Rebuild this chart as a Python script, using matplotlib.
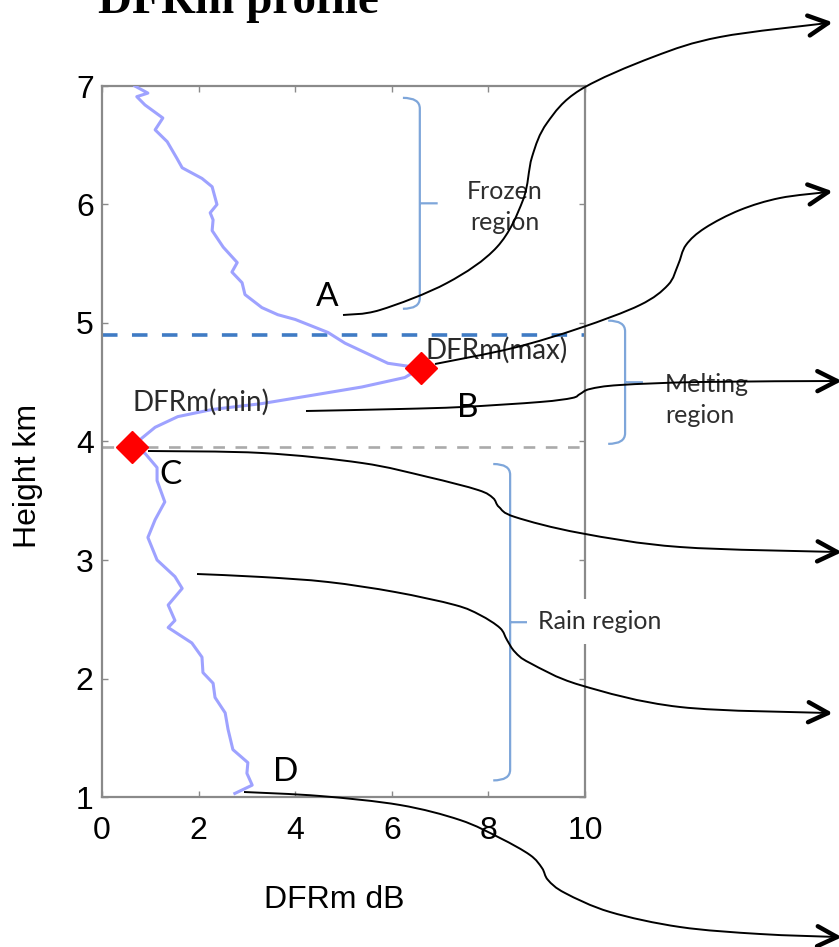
import numpy as np
import matplotlib.pyplot as plt
from matplotlib.path import Path
from matplotlib.patches import PathPatch
from matplotlib.lines import Line2D
from matplotlib.transforms import Affine2D

# DFRm profile, read top to bottom
height_km = [7.00, 6.94, 6.91, 6.84, 6.73, 6.63, 6.53, 6.39, 6.31, 6.22,
             6.15, 6.00, 5.93, 5.87, 5.78, 5.64, 5.51, 5.43, 5.34, 5.24,
             5.13, 5.07, 5.03, 4.92, 4.83, 4.66, 4.62, 4.54, 4.46, 4.39,
             4.32, 4.27, 4.21, 4.12, 4.03, 3.95, 3.90, 3.78, 3.67, 3.49,
             3.34, 3.19, 3.00, 2.86, 2.76, 2.62, 2.49, 2.43, 2.30, 2.18,
             2.05, 1.96, 1.84, 1.71, 1.57, 1.40, 1.29, 1.20, 1.10, 1.03]
dfrm_db = [0.68, 0.95, 0.72, 0.89, 1.26, 1.10, 1.35, 1.55, 1.66, 2.07,
           2.28, 2.38, 2.24, 2.30, 2.28, 2.51, 2.80, 2.69, 2.90, 2.96,
           3.31, 3.64, 4.00, 4.68, 5.03, 5.92, 6.60, 6.27, 5.38, 4.35,
           3.31, 2.28, 1.57, 1.10, 0.83, 0.62, 0.89, 1.14, 1.14, 1.30,
           1.10, 0.95, 1.14, 1.51, 1.66, 1.37, 1.51, 1.37, 1.86, 2.07,
           2.09, 2.30, 2.34, 2.55, 2.61, 2.71, 3.02, 3.00, 3.11, 2.75]

melt_top = 4.9
melt_bottom = 3.95

x_ticks = [0, 2, 4, 6, 8, 10]
y_ticks = [1, 2, 3, 4, 5, 6, 7]

# region braces: (bottom, top) in km and the brace x position
region_names = ['Frozen\nregion', 'Melting\nregion', 'Rain region']
region_spans = [(5.12, 6.90), (3.98, 5.02), (1.14, 3.81)]
region_brace_x = [6.58, 10.83, 8.45]
region_text_xy = [(8.34, 5.98), (11.66, 4.35), (9.03, 2.48)]
region_text_ha = ['center', 'left', 'left']

point_names = ['A', 'B', 'C', 'D']
point_xy = [(4.66, 5.22), (7.58, 4.28), (1.41, 3.72), (3.81, 1.21)]

W, H = 839, 947
fig = plt.figure(figsize=(W / 100, H / 100), dpi=100)
ax = fig.add_axes([102 / W, 1 - 797 / H, 483 / W, 711 / H])

ax.plot(dfrm_db, height_km, color='#9ea2ff', lw=2.2, zorder=3,
        solid_joinstyle='round')
ax.axhline(melt_top, color='#3f7bc4', lw=2.6, dashes=(4.3, 4), zorder=2)
ax.axhline(melt_bottom, color='#aaaaaa', lw=1.9, dashes=(4.4, 4), zorder=2)

i_max = int(np.argmax(dfrm_db))
i_min = int(np.argmin(dfrm_db))
ax.plot([dfrm_db[i_max], dfrm_db[i_min]], [height_km[i_max], height_km[i_min]],
        'D', color='#ff0000', ms=16, mec='#ff0000', zorder=4)

ax.set_xlim(0, 10)
ax.set_ylim(1, 7)
ax.set_xticks(x_ticks)
ax.set_yticks(y_ticks)
for s in ax.spines.values():
    s.set_color('#8a8a8a')
    s.set_linewidth(1.6)
ax.tick_params(direction='in', length=4, width=1, color='#8a8a8a',
               top=True, right=True, labelsize=23, labelcolor='black')
ax.tick_params(axis='x', pad=14)
ax.tick_params(axis='y', pad=6)
for lab in ax.get_xticklabels() + ax.get_yticklabels():
    lab.set_fontfamily('Liberation Sans')

brace_color = '#7ea6da'


def brace(x, y0, y1, hook=0.35, tip=0.37, r=0.09):
    ym = (y0 + y1) / 2
    verts = [(x - hook, y1), (x, y1), (x, y1 - r), (x, y0 + r), (x, y0),
             (x - hook, y0), (x, ym), (x + tip, ym)]
    codes = [Path.MOVETO, Path.CURVE3, Path.CURVE3, Path.LINETO,
             Path.CURVE3, Path.CURVE3, Path.MOVETO, Path.LINETO]
    ax.add_patch(PathPatch(Path(verts, codes), fill=False, ec=brace_color,
                           lw=1.6, clip_on=False, zorder=3))


for (y0, y1), bx in zip(region_spans, region_brace_x):
    brace(bx, y0, y1)

for name, (tx, ty), ha in zip(region_names, region_text_xy, region_text_ha):
    t = ax.text(tx, ty, name, ha=ha, va='center', fontsize=18,
                fontfamily='Lato', color='#2e2e2e', linespacing=1.4,
                clip_on=False, zorder=5)
    if name == 'Rain region':
        t.set_bbox(dict(fc='white', ec='none', pad=8))

ax.text(8.18, 4.77, 'DFRm(max)', ha='center', va='center', fontsize=20,
        fontfamily='Lato', color='#2a2a2a', zorder=5)
ax.text(2.05, 4.33, 'DFRm(min)', ha='center', va='center', fontsize=20,
        fontfamily='Lato', color='#2a2a2a', zorder=5)

for name, (tx, ty) in zip(point_names, point_xy):
    ax.text(tx, ty, name, ha='center', va='center', fontsize=24,
            fontfamily='Lato', color='black', zorder=5)

fig.text(238 / W, 1 - 13 / H, 'DFRm profile', ha='center', va='baseline',
         fontsize=34, fontweight='bold', fontfamily='Liberation Serif')
fig.text(334 / W, 1 - 900 / H, 'DFRm dB', ha='center', va='center',
         fontsize=23, fontfamily='Liberation Sans')
fig.text(28 / W, 1 - 476 / H, 'Height km', ha='center', va='center',
         rotation=90, fontsize=23, fontfamily='Liberation Sans')

# curved arrows leading off to the right, in pixel coordinates from top-left
px = Affine2D().scale(1 / W, -1 / H).translate(0, 1) + fig.transFigure

arrow_routes = [
    [(343, 315), (380, 310), (447, 283), (497, 247), (523, 200), (532, 157),
     (547, 123), (580, 90), (653, 57), (720, 37), (828, 23)],
    [(435, 364), (513, 348), (580, 328), (640, 305), (668, 285), (678, 265),
     (686, 245), (705, 228), (740, 210), (780, 198), (828, 192)],
    [(306, 411), (400, 409), (462, 407), (540, 402), (572, 398), (580, 394),
     (590, 389), (620, 385), (700, 382), (837, 381)],
    [(148, 451), (262, 453), (362, 463), (428, 477), (478, 490), (493, 498),
     (499, 507), (515, 517), (580, 533), (680, 547), (837, 552)],
    [(197, 574), (262, 577), (328, 582), (395, 592), (455, 605), (480, 615),
     (500, 628), (507, 640), (515, 652), (530, 663), (580, 685), (680, 707),
     (828, 713)],
    [(244, 792), (320, 796), (400, 805), (460, 820), (500, 838), (530, 855),
     (542, 868), (548, 880), (565, 893), (610, 912), (680, 927), (760, 934),
     (837, 937)],
]


def smooth(pts):
    pts = np.asarray(pts, float)
    p = np.vstack([pts[0], pts, pts[-1]])
    verts = [pts[0]]
    codes = [Path.MOVETO]
    for i in range(1, len(p) - 2):
        c1 = p[i] + (p[i + 1] - p[i - 1]) / 6
        c2 = p[i + 1] - (p[i + 2] - p[i]) / 6
        verts += [c1, c2, p[i + 1]]
        codes += [Path.CURVE4] * 3
    return Path(verts, codes)


for route in arrow_routes:
    fig.add_artist(PathPatch(smooth(route), fill=False, ec='black', lw=1.4,
                             transform=px, zorder=10))
    tip = np.array(route[-1], float)
    d = tip - np.array(route[-2], float)
    d /= np.hypot(*d)
    for sgn in (1, -1):
        a = np.deg2rad(27) * sgn
        rot = np.array([[np.cos(a), -np.sin(a)], [np.sin(a), np.cos(a)]])
        end = tip - 22 * rot @ d
        fig.add_artist(Line2D([tip[0], end[0]], [tip[1], end[1]], color='black',
                              lw=3.2, solid_capstyle='round', transform=px,
                              zorder=10))

fig.savefig('out.png', dpi=100)
